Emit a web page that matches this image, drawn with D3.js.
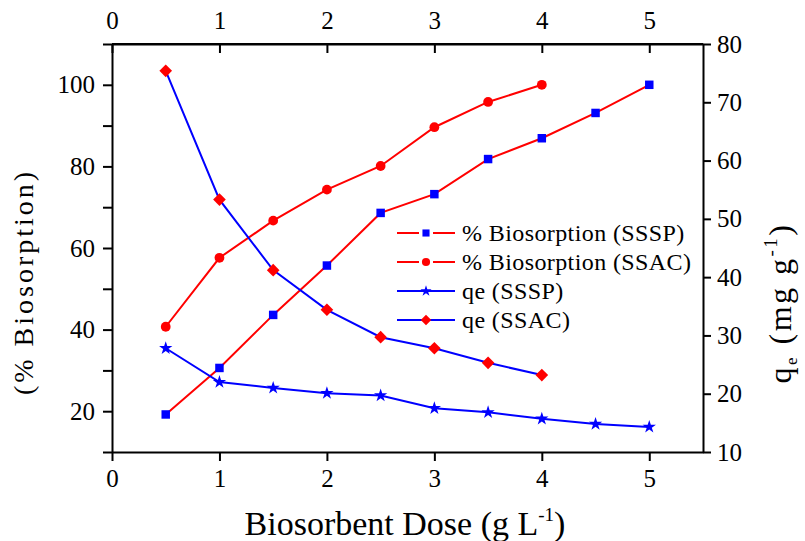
<!DOCTYPE html>
<html>
<head>
<meta charset="utf-8">
<script src="https://cdn.jsdelivr.net/npm/d3@7"></script>
<style>
  body { margin: 0; background: #fff; }
  .axis path, .axis line { stroke: #000; stroke-width: 2px; }
</style>
</head>
<body>
<div id="chart"></div>
<script>
var svgWidth = 805;
var svgHeight = 541;
var margin = { top: 44, right: 102, bottom: 89, left: 112 };
var width = svgWidth - margin.left - margin.right;
var height = svgHeight - margin.top - margin.bottom;
var serif = "Liberation Serif";

// data
var dose = [0.5, 1, 1.5, 2, 2.5, 3, 3.5, 4, 4.5, 5];
var biosorptionSSSP = [19.2, 30.6, 43.6, 55.7, 68.6, 73.2, 81.8, 86.9, 93.1, 100];
var biosorptionSSAC = [40.7, 57.6, 66.7, 74.3, 80.1, 89.6, 95.8, 100];
var qeSSSP = [27.8, 22.0, 21.0, 20.1, 19.7, 17.5, 16.8, 15.7, 14.8, 14.3];
var qeSSAC = [75.4, 53.3, 41.2, 34.4, 29.7, 27.8, 25.3, 23.2];
var xTicks = [0, 1, 2, 3, 4, 5];
var leftTicks = [20, 40, 60, 80, 100];
var rightTicks = [10, 20, 30, 40, 50, 60, 70, 80];

var svg = d3.select("#chart").append("svg")
    .attr("width", svgWidth)
    .attr("height", svgHeight);

var chart = svg.append("g")
    .attr("transform", `translate(${margin.left}, ${margin.top})`);

var xScale = d3.scaleLinear().domain([0, 5.5]).range([0, width]);
var yLeft = d3.scaleLinear().domain([10, 110]).range([height, 0]);
var yRight = d3.scaleLinear().domain([10, 80]).range([height, 0]);

function styleAxis(g) {
    g.attr("font-size", 25);
}

// axes
chart.append("g")
    .attr("class", "axis")
    .attr("transform", `translate(0, ${height})`)
    .call(d3.axisBottom(xScale).tickValues(xTicks).tickFormat(d3.format("d")).tickSize(9).tickSizeOuter(0))
    .call(styleAxis)
    .call(g => g.selectAll("text").attr("y", 35).attr("dy", 0));

chart.append("g")
    .attr("class", "axis")
    .call(d3.axisTop(xScale).tickValues(xTicks).tickFormat(d3.format("d")).tickSize(-9).tickSizeOuter(0))
    .call(styleAxis)
    .call(g => g.selectAll("text").attr("y", -15).attr("dy", 0));

chart.append("g")
    .attr("class", "axis")
    .call(d3.axisLeft(yLeft).tickValues(d3.range(10, 111, 10)).tickSize(9).tickSizeOuter(0).tickPadding(8)
        .tickFormat(d => leftTicks.includes(d) ? d : ""))
    .call(styleAxis);

chart.append("g")
    .attr("class", "axis")
    .attr("transform", `translate(${width}, 0)`)
    .call(d3.axisRight(yRight).tickValues(rightTicks).tickSize(8).tickSizeOuter(0).tickPadding(6))
    .call(styleAxis);

// connect top axis line to the right one
chart.append("line")
    .attr("x1", 0).attr("x2", width)
    .attr("y1", 0).attr("y2", 0)
    .attr("stroke", "#000").attr("stroke-width", 2);

var series = [
    { name: "% Biosorption (SSSP)", values: biosorptionSSSP, y: yLeft, line: "#ff0000", fill: "#0000ff", symbol: d3.symbolSquare, size: 72, rot: 0, gap: true },
    { name: "% Biosorption (SSAC)", values: biosorptionSSAC, y: yLeft, line: "#ff0000", fill: "#ff0000", symbol: d3.symbolCircle, size: 75, rot: 0, gap: true },
    { name: "qe (SSSP)", values: qeSSSP, y: yRight, line: "#0000ff", fill: "#0000ff", symbol: d3.symbolStar, size: 55, rot: 0, gap: false },
    { name: "qe (SSAC)", values: qeSSAC, y: yRight, line: "#0000ff", fill: "#ff0000", symbol: d3.symbolSquare, size: 80, rot: 45, gap: false }
];

series.forEach(function(s) {
    var pts = s.values.map((v, i) => [dose[i], v]);
    var line = d3.line()
        .x(d => xScale(d[0]))
        .y(d => s.y(d[1]));
    chart.append("path")
        .datum(pts)
        .attr("d", line)
        .attr("fill", "none")
        .attr("stroke", s.line)
        .attr("stroke-width", 2);
    chart.selectAll(null)
        .data(pts)
        .enter()
        .append("path")
        .attr("transform", d => `translate(${xScale(d[0])}, ${s.y(d[1])}) rotate(${s.rot})`)
        .attr("d", d3.symbol().type(s.symbol).size(s.size))
        .attr("fill", s.fill);
});

// legend
var legend = chart.append("g")
    .attr("transform", "translate(285, 189)");

series.forEach(function(s, i) {
    var row = legend.append("g").attr("transform", `translate(0, ${i * 29})`);
    if (s.gap) {
        row.append("line").attr("x1", 0).attr("x2", 22).attr("y1", 0).attr("y2", 0)
            .attr("stroke", s.line).attr("stroke-width", 2);
        row.append("line").attr("x1", 36).attr("x2", 58).attr("y1", 0).attr("y2", 0)
            .attr("stroke", s.line).attr("stroke-width", 2);
    } else {
        row.append("line").attr("x1", 0).attr("x2", 58).attr("y1", 0).attr("y2", 0)
            .attr("stroke", s.line).attr("stroke-width", 2);
    }
    row.append("path")
        .attr("transform", `translate(29, 0) rotate(${s.rot})`)
        .attr("d", d3.symbol().type(s.symbol).size(s.size * 0.7))
        .attr("fill", s.fill);
    row.append("text")
        .attr("x", 65)
        .attr("y", 8)
        .attr("font-size", "24px")
        .attr("letter-spacing", "0.4px")
        .text(s.name);
});

// axis titles
svg.append("text")
    .attr("transform", `translate(33, 282) rotate(-90)`)
    .attr("text-anchor", "middle")
    .attr("font-size", "28px")
    .attr("letter-spacing", "3px")
    .text("(% Biosorption)");

var xTitle = svg.append("text")
    .attr("x", 405)
    .attr("y", 535)
    .attr("text-anchor", "middle")
    .attr("font-size", "34px");
xTitle.append("tspan").text("Biosorbent Dose (g L");
xTitle.append("tspan").attr("dy", -14).attr("font-size", "19px").text("-1");
xTitle.append("tspan").attr("dy", 14).text(")");

var yTitle = svg.append("text")
    .attr("transform", `translate(791, 303) rotate(-90)`)
    .attr("text-anchor", "middle")
    .attr("font-size", "32px")
    .attr("letter-spacing", "2.5px");
yTitle.append("tspan").text("q");
yTitle.append("tspan").attr("dy", 6).attr("font-size", "17px").text("e");
yTitle.append("tspan").attr("dy", -6).text(" (mg g");
yTitle.append("tspan").attr("dy", -14).attr("font-size", "19px").text("-1");
yTitle.append("tspan").attr("dy", 14).text(")");

// every text in the serif face
svg.selectAll("text").style("font-family", serif).style("fill", "#000");
</script>
</body>
</html>
